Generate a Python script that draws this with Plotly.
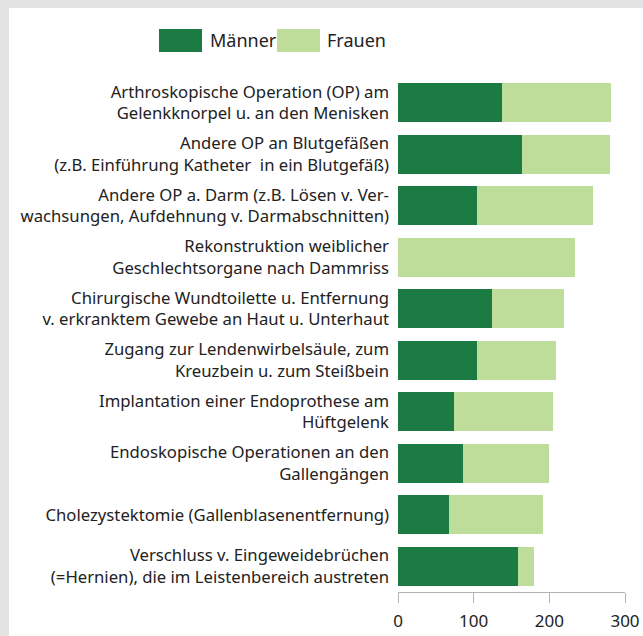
import plotly.graph_objects as go

# data
categories = [
    "Arthroskopische Operation (OP) am<br>Gelenkknorpel u. an den Menisken",
    "Andere OP an Blutgefäßen<br>(z.B. Einführung Katheter  in ein Blutgefäß)",
    "Andere OP a. Darm (z.B. Lösen v. Ver-<br>wachsungen, Aufdehnung v. Darmabschnitten)",
    "Rekonstruktion weiblicher<br>Geschlechtsorgane nach Dammriss",
    "Chirurgische Wundtoilette u. Entfernung<br>v. erkranktem Gewebe an Haut u. Unterhaut",
    "Zugang zur Lendenwirbelsäule, zum<br>Kreuzbein u. zum Steißbein",
    "Implantation einer Endoprothese am<br>Hüftgelenk",
    "Endoskopische Operationen an den<br>Gallengängen",
    "Cholezystektomie (Gallenblasenentfernung)",
    "Verschluss v. Eingeweidebrüchen<br>(=Hernien), die im Leistenbereich austreten",
]
maenner = [138, 164, 105, 0, 124, 105, 74, 86, 67, 158]
frauen = [144, 116, 153, 234, 96, 104, 131, 113, 125, 22]
x_ticks = [0, 100, 200, 300]

DARK = "#1c7b42"
LIGHT = "#bedd9b"
FRAME = "#e3e3e3"
FONT = "Noto Sans"
LEGEND_FONT = "Liberation Sans Narrow, Noto Sans"

# canvas / plot area in pixels
WIDTH, HEIGHT = 643, 636
L, R, T, B = 398, 18, 77, 44
PW = WIDTH - L - R
PH = HEIGHT - T - B


def px_x(p):
    return (p - L) / PW


def px_y(p):
    return (HEIGHT - B - p) / PH


fig = go.Figure()
fig.add_trace(go.Bar(name="Männer", y=categories, x=maenner, orientation="h",
                     marker=dict(color=DARK, line_width=0)))
fig.add_trace(go.Bar(name="Frauen", y=categories, x=frauen, orientation="h",
                     marker=dict(color=LIGHT, line_width=0)))

# gray frame strips along the top and left edge
fig.add_shape(type="rect", xref="paper", yref="paper", layer="below",
              x0=px_x(-5), x1=px_x(WIDTH + 5), y0=px_y(8), y1=px_y(-5),
              fillcolor=FRAME, line_width=0)
fig.add_shape(type="rect", xref="paper", yref="paper", layer="below",
              x0=px_x(-5), x1=px_x(9), y0=px_y(HEIGHT + 5), y1=px_y(-5),
              fillcolor=FRAME, line_width=0)

# custom legend with large swatches
for name, color, sx, tx in [("Männer", DARK, 159, 208), ("Frauen", LIGHT, 277, 325)]:
    fig.add_shape(type="rect", xref="paper", yref="paper",
                  x0=px_x(sx), x1=px_x(sx + 43), y0=px_y(52), y1=px_y(29),
                  fillcolor=color, line_width=0)
    fig.add_annotation(text=name, xref="paper", yref="paper", x=px_x(tx), y=px_y(40),
                       xanchor="left", yanchor="middle", showarrow=False,
                       font=dict(family=LEGEND_FONT, size=18, color="#222222"))

fig.update_layout(
    width=WIDTH, height=HEIGHT,
    barmode="stack", bargap=0.24,
    showlegend=False,
    margin=dict(l=L, r=R, t=T, b=B, pad=0, autoexpand=False),
    paper_bgcolor="white", plot_bgcolor="white",
    font=dict(family=FONT, size=16, color="#222222"),
)
fig.update_xaxes(range=[0, 300], tickvals=x_ticks, showgrid=False, zeroline=False,
                 showline=True, linecolor="#b4b4b4", linewidth=1, automargin=False,
                 ticks="outside", ticklen=10, tickcolor="#b4b4b4",
                 ticklabelstandoff=4, tickfont=dict(size=17))
fig.update_yaxes(autorange="reversed", showgrid=False, zeroline=False, showline=False,
                 automargin=False, ticks="", ticklabelstandoff=8, tickfont=dict(size=16.7))

# drop the default body margin / scrollbars so the figure sits at the window origin
fig.write_html("out.html", config={"displayModeBar": False},
               post_script="document.body.style.margin='0';"
                           "document.body.style.overflow='hidden';"
                           "document.documentElement.style.overflow='hidden';")
